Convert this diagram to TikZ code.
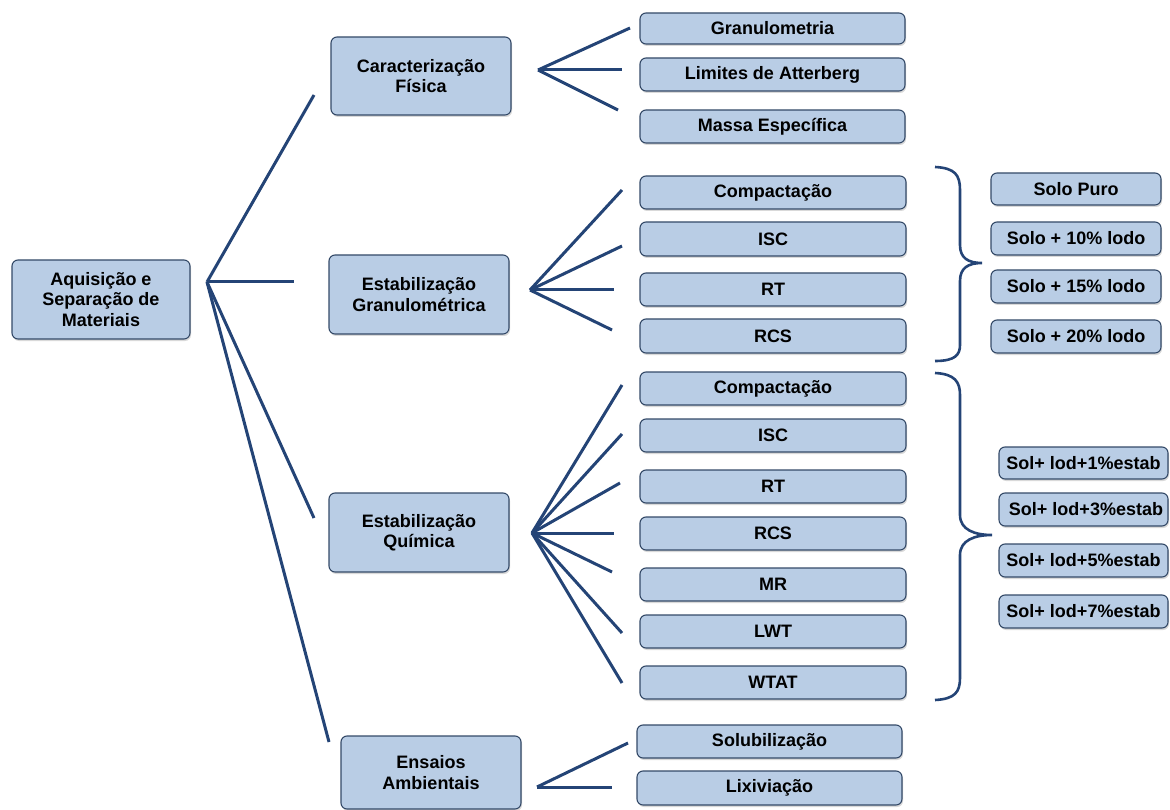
\documentclass[tikz,border=0pt]{standalone}
\usepackage{fontspec}
\setmainfont{Liberation Sans}
\usetikzlibrary{shadows}
\definecolor{boxfill}{RGB}{185,205,229}
\definecolor{boxdraw}{RGB}{52,74,104}
\definecolor{linec}{RGB}{36,68,118}
\newcommand\mybox[6]{\node[box,minimum width={#4pt-#2pt},minimum height={#5pt-#3pt}] (#1) at ({(#2+#4)/2},{(#3+#5)/2}) {#6};}
\begin{document}
\begin{tikzpicture}[x=1pt,y=-1pt,
 box/.style={draw=boxdraw, line width=1.1pt, fill=boxfill, rounded corners=6pt,
   font=\fontsize{18}{20.5}\selectfont\bfseries, align=center, inner sep=0pt,
   drop shadow={shadow xshift=1pt,shadow yshift=-2pt,opacity=0.3}},
 fan/.style={draw=linec, line width=3pt},
 bracestyle/.style={draw=linec, line width=2.6pt}]
\useasboundingbox (0,0) rectangle (1170,810);
% level 0 and 1
\mybox{root}{12}{260}{190}{339}{Aquisição e\\Separação de\\Materiais}
\mybox{cf}{331}{37}{511}{115}{Caracterização\\Física}
\mybox{eg}{329}{255}{509}{334}{Estabilização\\Granulométrica}
\mybox{eq}{329}{493}{509}{572}{Estabilização\\Química}
\mybox{ea}{341}{736}{521}{809}{Ensaios\\Ambientais}
% level 2
\mybox{g1}{640}{13}{905}{44}{Granulometria}
\mybox{g2}{640}{58}{905}{91}{Limites de Atterberg}
\mybox{g3}{640}{110}{905}{143}{Massa Específica}
\mybox{h1}{640}{176}{906}{209}{Compactação}
\mybox{h2}{640}{222}{906}{256}{ISC}
\mybox{h3}{640}{273}{906}{306}{RT}
\mybox{h4}{640}{319}{906}{353}{RCS}
\mybox{q1}{640}{372}{906}{405}{Compactação}
\mybox{q2}{640}{419}{906}{452}{ISC}
\mybox{q3}{640}{470}{906}{503}{RT}
\mybox{q4}{640}{517}{906}{550}{RCS}
\mybox{q5}{640}{568}{906}{601}{MR}
\mybox{q6}{640}{615}{906}{648}{LWT}
\mybox{q7}{640}{666}{906}{699}{WTAT}
\mybox{a1}{637}{725}{902}{758}{Solubilização}
\mybox{a2}{637}{771}{902}{805}{Lixiviação}
% right column
\mybox{s1}{991}{173}{1161}{205}{Solo Puro}
\mybox{s2}{991}{222}{1161}{255}{Solo + 10\% lodo}
\mybox{s3}{991}{270}{1161}{303}{Solo + 15\% lodo}
\mybox{s4}{991}{320}{1161}{353}{Solo + 20\% lodo}
\mybox{t1}{999}{447}{1168}{479}{Sol+ lod+1\%estab}
\mybox{t2}{999}{493}{1168}{526}{\ Sol+ lod+3\%estab}
\mybox{t3}{999}{544}{1168}{577}{Sol+ lod+5\%estab}
\mybox{t4}{999}{595}{1168}{628}{Sol+ lod+7\%estab}
% fan coordinates
\coordinate (r0) at (207,282);
\coordinate (r1) at (314,95);
\coordinate (r2) at (294,282);
\coordinate (r3) at (314,518);
\coordinate (r4) at (329,742);
\coordinate (c0) at (538,70);
\coordinate (c1) at (630,28);
\coordinate (c2) at (622,70);
\coordinate (c3) at (618,110);
\coordinate (e0) at (530,290);
\coordinate (e1) at (622,190);
\coordinate (e2) at (622,246);
\coordinate (e3) at (614,290);
\coordinate (e4) at (612,330);
\coordinate (k0) at (532,533);
\coordinate (k1) at (622,385);
\coordinate (k2) at (622,434);
\coordinate (k3) at (620,483);
\coordinate (k4) at (614,533);
\coordinate (k5) at (612,572);
\coordinate (k6) at (622,633);
\coordinate (k7) at (622,683);
\coordinate (m0) at (537,787);
\coordinate (m1) at (628,743);
\coordinate (m2) at (612,787);
\foreach \i in {1,...,4} \draw[fan] (r0) -- (r\i);
\foreach \i in {1,...,3} \draw[fan] (c0) -- (c\i);
\foreach \i in {1,...,4} \draw[fan] (e0) -- (e\i);
\foreach \i in {1,...,7} \draw[fan] (k0) -- (k\i);
\foreach \i in {1,2} \draw[fan] (m0) -- (m\i);
% braces
\draw[bracestyle] (935,167) .. controls (955,168) and (960,175) .. (960,190) -- (960,245)
  .. controls (960,258) and (968,263) .. (982,263)
  .. controls (968,263) and (960,268) .. (960,281) -- (960,345)
  .. controls (960,355) and (955,361) .. (935,361);
\draw[bracestyle] (935,373) .. controls (955,374) and (960,382) .. (960,395) -- (960,515)
  .. controls (960,530) and (975,535) .. (992,535)
  .. controls (975,535) and (960,540) .. (960,555) -- (960,678)
  .. controls (960,692) and (955,699) .. (935,700);
\end{tikzpicture}
\end{document}
